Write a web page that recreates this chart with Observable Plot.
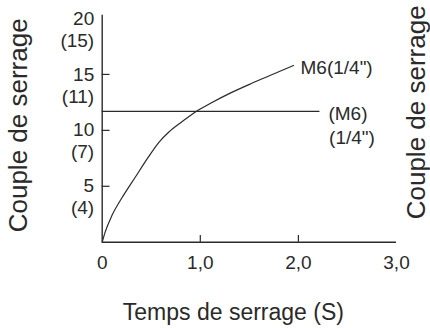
<!DOCTYPE html>
<html>
<head>
<meta charset="utf-8">
<script src="https://cdn.jsdelivr.net/npm/d3@7"></script>
<script src="https://cdn.jsdelivr.net/npm/@observablehq/plot@0.6"></script>
<style>
  html, body { margin: 0; padding: 0; background: #fff; }
  #chart { width: 430px; height: 328px; }
</style>
</head>
<body>
<div id="chart"></div>
<script>
// Tick values and labels
const xTicks = [0, 1, 2, 3];
const xTickLabels = ["0", "1,0", "2,0", "3,0"];
const yTicks = [5, 10, 15, 20];
const yTickLabels = ["5", "10", "15", "20"];
const yTickLabelsAlt = ["(4)", "(7)", "(11)", "(15)"];

// Tightening curve M6(1/4")
const curveX = [0, 0.03, 0.1, 0.2, 0.34, 0.47, 0.58, 0.68, 0.81, 0.95, 1.1, 1.31, 1.51, 1.71, 1.95];
const curveY = [0, 0.9, 2.4, 3.95, 5.85, 7.6, 8.95, 9.85, 10.75, 11.65, 12.4, 13.35, 14.15, 14.9, 15.8];

// Reference level (M6)(1/4")
const refLevel = 11.7;
const refStart = 0;
const refEnd = 2.22;

const curveLabel = "M6(1/4\")";
const refLabel1 = "(M6)";
const refLabel2 = "(1/4\")";
const yTitle = "Couple de serrage";
const xTitle = "Temps de serrage (S)";

const curve = curveX.map((x, i) => ({x, y: curveY[i]}));
const last = curve[curve.length - 1];
const xTickData = xTicks.map((v, i) => ({v, label: xTickLabels[i]}));
const yTickData = yTicks.map((v, i) => ({v, label: yTickLabels[i], alt: yTickLabelsAlt[i]}));

const ink = "#2a2a2a";
const font = "'Liberation Sans', Arial, Helvetica, sans-serif";

const chart = Plot.plot({
  width: 430,
  height: 328,
  marginLeft: 101.7,
  marginRight: 34,
  marginTop: 18,
  marginBottom: 86.3,
  style: {fontFamily: font, background: "#fff", color: ink, overflow: "visible"},
  x: {domain: [0, 3], axis: null},
  y: {domain: [0, 20], axis: null},
  marks: [
    // axes lines
    Plot.ruleX([0], {y1: 0, y2: 20.28, stroke: ink, strokeWidth: 1.4}),
    Plot.ruleY([0], {x1: 0, x2: 3, stroke: ink, strokeWidth: 1.4}),
    // inward ticks
    Plot.ruleY(yTicks.filter(d => d < 20), {x1: 0, x2: 0.08, stroke: ink, strokeWidth: 1.2}),
    Plot.ruleX(xTicks.filter(d => d > 0 && d < 3), {y1: 0, y2: 0.6, stroke: ink, strokeWidth: 1.2}),
    // y tick labels
    Plot.text(yTickData, {x: 0, y: "v", text: "label", textAnchor: "end", dx: -8, fontSize: 19, fill: ink}),
    Plot.text(yTickData, {x: 0, y: "v", text: "alt", textAnchor: "end", dx: -8, dy: 22, fontSize: 19, fill: ink}),
    // x tick labels
    Plot.text(xTickData, {x: "v", y: 0, text: "label", dy: 21, fontSize: 19, fill: ink}),
    // reference level
    Plot.ruleY([refLevel], {x1: refStart, x2: refEnd, stroke: ink, strokeWidth: 1.3}),
    Plot.text([refLabel1], {x: refEnd, y: refLevel, text: d => d, dx: 28, dy: 3, fontSize: 19, fill: ink}),
    Plot.text([refLabel2], {x: refEnd, y: refLevel, text: d => d, dx: 32, dy: 27, fontSize: 19, fill: ink}),
    // curve
    Plot.line(curve, {x: "x", y: "y", curve: "monotone-x", stroke: ink, strokeWidth: 1.2}),
    Plot.text([curveLabel], {x: last.x, y: last.y, text: d => d, textAnchor: "start", dx: 7, dy: 2, fontSize: 19, fill: ink}),
    // axis titles
    Plot.text([yTitle], {frameAnchor: "left", textAnchor: "middle", lineAnchor: "middle", text: d => d, rotate: -90, dx: -84, dy: -5, fontSize: 26, fill: ink}),
    Plot.text([yTitle], {frameAnchor: "right", textAnchor: "middle", lineAnchor: "middle", text: d => d, rotate: -90, dx: 20, dy: -18, fontSize: 26, fill: ink}),
    Plot.text([xTitle], {frameAnchor: "bottom", textAnchor: "middle", lineAnchor: "middle", text: d => d, dx: -16, dy: 70, fontSize: 23, fill: ink})
  ]
});
document.getElementById("chart").appendChild(chart);
</script>
</body>
</html>
